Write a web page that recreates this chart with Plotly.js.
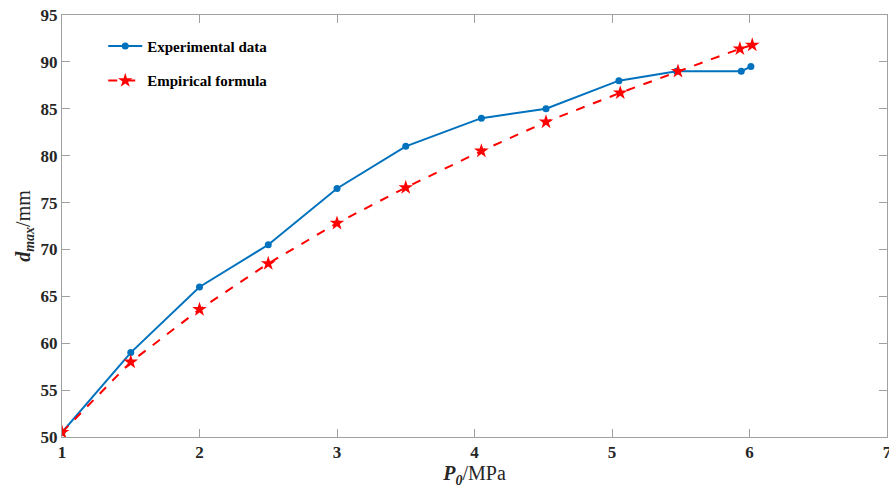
<!DOCTYPE html>
<html><head><meta charset="utf-8">
<script src="https://cdn.plot.ly/plotly-3.0.1.min.js"></script>
<style>html,body{margin:0;padding:0;background:#fff;}#chart{width:889px;height:490px;}</style>
</head><body><div id="chart"></div>
<script>
const expX = [1, 1.5, 2, 2.5, 3, 3.5, 4.05, 4.52, 5.05, 5.47, 5.94, 6.01];
const expY = [50.5, 59, 66, 70.5, 76.5, 81, 84, 85, 88, 89, 89, 89.5];
const empX = [1, 1.5, 2, 2.5, 3, 3.5, 4.05, 4.52, 5.06, 5.48, 5.93, 6.02];
const empY = [50.5, 58, 63.6, 68.5, 72.8, 76.6, 80.5, 83.6, 86.7, 89, 91.4, 91.8];
const xTicks = [1, 2, 3, 4, 5, 6, 7];
const yTicks = [50, 55, 60, 65, 70, 75, 80, 85, 90, 95];

const font = {family: '"Liberation Serif", "Times New Roman", serif', size: 16, color: '#262626'};
const traces = [
  {x: expX, y: expY, name: '<b>Experimental data</b>', mode: 'lines+markers', legendgroup: 'a',
   line: {color: '#0072BD', width: 2}, marker: {color: '#0072BD', size: 7, symbol: 'circle'}},
  {x: empX, y: empY, name: '<b>Empirical formula</b>', mode: 'lines+markers', legendgroup: 'b',
   line: {color: '#FF0000', width: 2, dash: 'dash'}, marker: {color: '#FF0000', size: 11, symbol: 'star'}}
];
const axisCommon = {showgrid: false, zeroline: false, showline: true, linecolor: '#a0a0a0', linewidth: 1,
  mirror: 'ticks', ticks: 'inside', ticklen: 8, tickcolor: '#a0a0a0', ticklabeloverflow: 'allow',
  tickfont: {family: font.family, size: 17, color: '#262626', weight: 'bold'}};
const layout = {
  width: 889, height: 490, paper_bgcolor: '#fff', plot_bgcolor: '#fff',
  margin: {l: 62, r: 2, t: 15, b: 53},
  font: font,
  showlegend: true,
  legend: {x: 0.05, y: 0.965, xanchor: 'left', yanchor: 'top', bgcolor: 'rgba(0,0,0,0)',
    font: {family: font.family, size: 15, color: '#000'}, tracegroupgap: 12, itemwidth: 34},
  xaxis: Object.assign({}, axisCommon, {range: [1, 7], tickvals: xTicks, ticktext: xTicks.map(String),
    title: {text: '<b><i>P<sub>0</sub></i></b>/MPa', font: {family: font.family, size: 20, color: '#262626'}, standoff: 4}}),
  yaxis: Object.assign({}, axisCommon, {range: [50, 95], tickvals: yTicks, ticktext: yTicks.map(String),
    title: {text: '<b><i>d<sub>max</sub></i></b>/mm', font: {family: font.family, size: 20, color: '#262626'}, standoff: 4}})
};
Plotly.newPlot('chart', traces, layout, {displayModeBar: false, staticPlot: true});
</script></body></html>
